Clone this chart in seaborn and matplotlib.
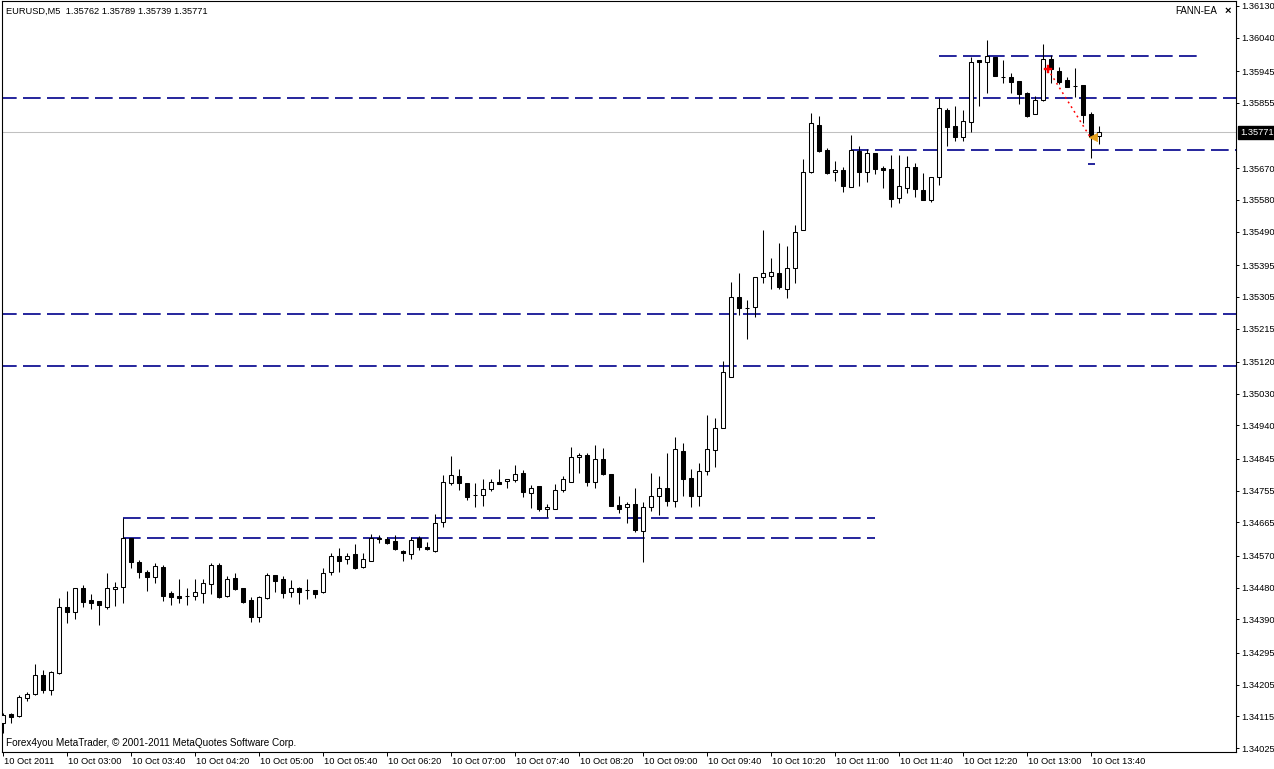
import numpy as np
import pandas as pd
import matplotlib
matplotlib.use("Agg")
import matplotlib.pyplot as plt
import matplotlib.transforms as mtransforms
import seaborn as sns

# ---------------- data (EURUSD M5, 10 Oct 2011 02:20 - 13:45) ----------------
open_ = [1.34096, 1.34122, 1.34116, 1.34167, 1.34178, 1.34232, 1.34190, 1.34238, 1.34425, 1.34411,
         1.34479, 1.34445, 1.34442, 1.34425, 1.34476, 1.34482, 1.34621, 1.34553, 1.34524, 1.34510,
         1.34539, 1.34465, 1.34456, 1.34456, 1.34456, 1.34465, 1.34490, 1.34544, 1.34456, 1.34507,
         1.34479, 1.34445, 1.34397, 1.34451, 1.34516, 1.34505, 1.34468, 1.34479, 1.34473, 1.34473,
         1.34468, 1.34524, 1.34570, 1.34561, 1.34575, 1.34539, 1.34556, 1.34621, 1.34618, 1.34612,
         1.34584, 1.34575, 1.34621, 1.34595, 1.34584, 1.34666, 1.34777, 1.34797, 1.34777, 1.34743,
         1.34743, 1.34760, 1.34780, 1.34782, 1.34785, 1.34805, 1.34748, 1.34768, 1.34703, 1.34703,
         1.34757, 1.34780, 1.34851, 1.34856, 1.34780, 1.34845, 1.34802, 1.34714, 1.34709, 1.34717,
         1.34641, 1.34709, 1.34740, 1.34763, 1.34726, 1.34868, 1.34791, 1.34740, 1.34811, 1.34870,
         1.34933, 1.35078, 1.35304, 1.35273, 1.35276, 1.35361, 1.35364, 1.35373, 1.35327, 1.35387,
         1.35495, 1.35659, 1.35792, 1.35721, 1.35659, 1.35665, 1.35617, 1.35719, 1.35659, 1.35713,
         1.35670, 1.35668, 1.35585, 1.35614, 1.35673, 1.35608, 1.35580, 1.35645, 1.35835, 1.35790,
         1.35758, 1.35801, 1.35977, 1.35971, 1.35985, 1.35929, 1.35929, 1.35917, 1.35883, 1.35824,
         1.35863, 1.35980, 1.35946, 1.35920, 1.35903, 1.35906, 1.35824, 1.35762]
high = [1.34124, 1.34124, 1.34175, 1.34184, 1.34263, 1.34246, 1.34243, 1.34451, 1.34470, 1.34479,
        1.34487, 1.34462, 1.34442, 1.34521, 1.34496, 1.34678, 1.34621, 1.34558, 1.34530, 1.34550,
        1.34544, 1.34470, 1.34505, 1.34479, 1.34505, 1.34505, 1.34550, 1.34550, 1.34513, 1.34521,
        1.34479, 1.34453, 1.34456, 1.34521, 1.34516, 1.34513, 1.34502, 1.34482, 1.34505, 1.34473,
        1.34536, 1.34578, 1.34592, 1.34578, 1.34604, 1.34578, 1.34632, 1.34629, 1.34624, 1.34629,
        1.34587, 1.34624, 1.34626, 1.34610, 1.34689, 1.34799, 1.34853, 1.34817, 1.34777, 1.34777,
        1.34788, 1.34788, 1.34817, 1.34788, 1.34828, 1.34814, 1.34771, 1.34768, 1.34717, 1.34774,
        1.34797, 1.34879, 1.34862, 1.34862, 1.34885, 1.34876, 1.34802, 1.34740, 1.34723, 1.34763,
        1.34723, 1.34805, 1.34797, 1.34862, 1.34907, 1.34890, 1.34817, 1.34834, 1.34970, 1.34961,
        1.35123, 1.35347, 1.35373, 1.35296, 1.35361, 1.35495, 1.35415, 1.35458, 1.35449, 1.35509,
        1.35696, 1.35826, 1.35818, 1.35727, 1.35690, 1.35673, 1.35764, 1.35733, 1.35724, 1.35713,
        1.35676, 1.35707, 1.35707, 1.35704, 1.35685, 1.35656, 1.35645, 1.35869, 1.35841, 1.35846,
        1.35835, 1.35985, 1.35977, 1.36034, 1.35985, 1.35977, 1.35940, 1.35917, 1.35886, 1.35875,
        1.36022, 1.35991, 1.35957, 1.35929, 1.35954, 1.35906, 1.35829, 1.35789]
low = [1.34068, 1.34096, 1.34113, 1.34158, 1.34175, 1.34181, 1.34175, 1.34235, 1.34380, 1.34391,
       1.34425, 1.34419, 1.34374, 1.34419, 1.34428, 1.34436, 1.34536, 1.34507, 1.34470, 1.34493,
       1.34442, 1.34431, 1.34436, 1.34431, 1.34445, 1.34436, 1.34462, 1.34451, 1.34453, 1.34473,
       1.34436, 1.34382, 1.34382, 1.34448, 1.34468, 1.34451, 1.34453, 1.34434, 1.34448, 1.34451,
       1.34465, 1.34516, 1.34524, 1.34547, 1.34533, 1.34536, 1.34556, 1.34607, 1.34604, 1.34587,
       1.34556, 1.34561, 1.34587, 1.34587, 1.34581, 1.34652, 1.34771, 1.34757, 1.34729, 1.34709,
       1.34712, 1.34754, 1.34774, 1.34763, 1.34780, 1.34737, 1.34706, 1.34697, 1.34680, 1.34703,
       1.34751, 1.34780, 1.34805, 1.34768, 1.34763, 1.34799, 1.34712, 1.34692, 1.34663, 1.34638,
       1.34553, 1.34697, 1.34686, 1.34712, 1.34709, 1.34740, 1.34709, 1.34712, 1.34799, 1.34822,
       1.34933, 1.35078, 1.35253, 1.35185, 1.35248, 1.35344, 1.35327, 1.35327, 1.35302, 1.35344,
       1.35495, 1.35656, 1.35716, 1.35653, 1.35634, 1.35602, 1.35617, 1.35619, 1.35631, 1.35653,
       1.35614, 1.35560, 1.35571, 1.35600, 1.35588, 1.35580, 1.35574, 1.35622, 1.35733, 1.35747,
       1.35747, 1.35773, 1.35846, 1.35883, 1.35931, 1.35912, 1.35883, 1.35852, 1.35815, 1.35824,
       1.35860, 1.35912, 1.35909, 1.35900, 1.35872, 1.35798, 1.35699, 1.35739]
close = [1.34119, 1.34113, 1.34170, 1.34178, 1.34232, 1.34190, 1.34241, 1.34425, 1.34411, 1.34479,
         1.34439, 1.34436, 1.34431, 1.34479, 1.34482, 1.34621, 1.34553, 1.34524, 1.34510, 1.34541,
         1.34456, 1.34453, 1.34451, 1.34456, 1.34468, 1.34493, 1.34544, 1.34453, 1.34505, 1.34476,
         1.34439, 1.34397, 1.34453, 1.34516, 1.34499, 1.34465, 1.34479, 1.34468, 1.34473, 1.34462,
         1.34521, 1.34570, 1.34556, 1.34570, 1.34536, 1.34561, 1.34621, 1.34618, 1.34607, 1.34590,
         1.34578, 1.34615, 1.34595, 1.34590, 1.34663, 1.34780, 1.34799, 1.34777, 1.34737, 1.34743,
         1.34760, 1.34780, 1.34774, 1.34788, 1.34802, 1.34751, 1.34763, 1.34703, 1.34709, 1.34757,
         1.34788, 1.34851, 1.34856, 1.34780, 1.34845, 1.34802, 1.34712, 1.34703, 1.34717, 1.34644,
         1.34709, 1.34740, 1.34763, 1.34726, 1.34873, 1.34788, 1.34740, 1.34811, 1.34873, 1.34933,
         1.35092, 1.35304, 1.35273, 1.35273, 1.35361, 1.35373, 1.35375, 1.35333, 1.35387, 1.35489,
         1.35659, 1.35798, 1.35719, 1.35656, 1.35665, 1.35619, 1.35721, 1.35659, 1.35713, 1.35668,
         1.35665, 1.35582, 1.35619, 1.35673, 1.35611, 1.35580, 1.35645, 1.35841, 1.35787, 1.35758,
         1.35804, 1.35971, 1.35971, 1.35988, 1.35931, 1.35929, 1.35914, 1.35880, 1.35818, 1.35863,
         1.35980, 1.35951, 1.35914, 1.35900, 1.35903, 1.35821, 1.35758, 1.35771]

time_labels = ["10 Oct 2011", "10 Oct 03:00", "10 Oct 03:40", "10 Oct 04:20", "10 Oct 05:00",
               "10 Oct 05:40", "10 Oct 06:20", "10 Oct 07:00", "10 Oct 07:40", "10 Oct 08:20",
               "10 Oct 09:00", "10 Oct 09:40", "10 Oct 10:20", "10 Oct 11:00", "10 Oct 11:40",
               "10 Oct 12:20", "10 Oct 13:00", "10 Oct 13:40"]
label_every = 8

price_ticks = [1.36130, 1.36040, 1.35945, 1.35855, 1.35670, 1.35580, 1.35490, 1.35395,
               1.35305, 1.35215, 1.35120, 1.35030, 1.34940, 1.34845, 1.34755, 1.34665,
               1.34570, 1.34480, 1.34390, 1.34295, 1.34205, 1.34115, 1.34025]
price_tick_labels = ["1.36130", "1.36040", "1.35945", "1.35855", "1.35670", "1.35580", "1.35490",
                     "1.35395", "1.35305", "1.35215", "1.35120", "1.35030", "1.34940", "1.34845",
                     "1.34755", "1.34665", "1.34570", "1.34480", "1.34390", "1.34295", "1.34205",
                     "1.34115", "1.34025"]

# support / resistance levels drawn by the EA (price, first bar, last bar)
level_price = [1.35988, 1.35869, 1.35722, 1.35256, 1.35109, 1.34678, 1.34621, 1.35682]
level_start = [117, -1, 106, -1, -1, 15, 15, 135.6]
level_end = [149.25, 156, 156, 156, 156, 109, 109, 136.5]

current_price = 1.35771
trade_bar = [130.6, 135.9]
trade_price = [1.35951, 1.35758]

header = "EURUSD,M5  1.35762 1.35789 1.35739 1.35771"
footer = "Forex4you MetaTrader, \u00a9 2001-2011 MetaQuotes Software Corp."
ea_name = "FANN-EA"

# ---------------- figure ----------------
sns.set_style("white")
plt.rcParams['font.family'] = ['Liberation Sans', 'DejaVu Sans']
FS = 6.7

W, H = 1274, 769
fig = plt.figure(figsize=(W / 100, H / 100), dpi=100)
ax = fig.add_axes([2 / W, 17 / H, 1234 / W, 751 / H])

df = pd.DataFrame({"open": open_, "high": high, "low": low, "close": close})
df["bar"] = np.arange(len(df))
bull = df["close"] >= df["open"]

# wicks
ax.vlines(df["bar"], df["low"], df["high"], colors="black", lw=0.75, zorder=3)
# bodies
body_lo = np.minimum(df["open"], df["close"])
body_h = np.abs(df["close"] - df["open"])
ax.bar(df["bar"][bull], body_h[bull], bottom=body_lo[bull], width=0.5,
       facecolor="white", edgecolor="black", linewidth=0.75, zorder=4)
ax.bar(df["bar"][~bull], body_h[~bull], bottom=body_lo[~bull], width=0.5,
       facecolor="black", edgecolor="black", linewidth=0.75, zorder=4)

# current price line
ax.axhline(current_price, color="#C0C0C0", lw=0.75, zorder=1)

# EA level lines
for p, s, e in zip(level_price, level_start, level_end):
    ax.hlines(p, s, e, colors="#00008B", lw=1.2, linestyles=(0, (10.6, 3.8)), zorder=2)

# trade line & markers
sns.lineplot(x=trade_bar, y=trade_price, ax=ax, color="red", lw=1.1,
             linestyle=(0, (1.2, 2.4)), zorder=5)
sns.scatterplot(x=[trade_bar[0]], y=[trade_price[0]], ax=ax, marker="P", s=28,
                color="red", edgecolor="red", linewidth=0.3, zorder=6)
sns.scatterplot(x=[trade_bar[1] + 0.3], y=[trade_price[1]], ax=ax, marker="<", s=36,
                color="#E6A21E", edgecolor="#E6A21E", zorder=6)

# axes limits
ax.set_xlim(-0.125, 154.125)
ax.set_ylim(1.340137, 1.36144)

# y axis on the right
ax.yaxis.tick_right()
ax.set_yticks(price_ticks, labels=price_tick_labels)
ax.tick_params(axis="y", right=True, left=False, labelright=True, labelleft=False,
               direction="out", length=2.5, width=0.7, pad=1.5, labelsize=FS, colors="black")

# x axis
xt = np.arange(0, len(time_labels) * label_every, label_every)
ax.set_xticks(xt, labels=time_labels)
ax.tick_params(axis="x", bottom=True, direction="out", length=3, width=0.7, pad=0.5,
               labelsize=FS, colors="black")
offset = mtransforms.ScaledTranslation(1 / 100, 0, fig.dpi_scale_trans)
for lbl in ax.get_xticklabels():
    lbl.set_horizontalalignment("left")
    lbl.set_transform(lbl.get_transform() + offset)

ax.set_xlabel("")
ax.set_ylabel("")
for sp in ax.spines.values():
    sp.set_visible(True)
    sp.set_color("black")
    sp.set_linewidth(0.8)

# current price box on the axis
trans = mtransforms.blended_transform_factory(ax.transAxes, ax.transData)
ax.text(1.0 + 4 / 1234, current_price, "1.35771", transform=trans, ha="left", va="center",
        fontsize=FS, color="white", zorder=10, clip_on=False,
        bbox=dict(boxstyle="square,pad=0.25", facecolor="black", edgecolor="black"))

# texts
fig.text(6 / W, 1 - 11 / H, header, ha="left", va="center", fontsize=FS, color="black")
fig.text(6 / W, 1 - 743 / H, footer, ha="left", va="center", fontsize=7.2, color="black")
fig.text(1175 / W, 1 - 11 / H, ea_name, ha="left", va="center", fontsize=FS + 0.3, color="black")
fig.text(1228 / W, 1 - 11 / H, "\u00d7", ha="center", va="center", fontsize=8,
         color="black", fontweight="bold")

fig.savefig("out.png", dpi=100, facecolor="white")
